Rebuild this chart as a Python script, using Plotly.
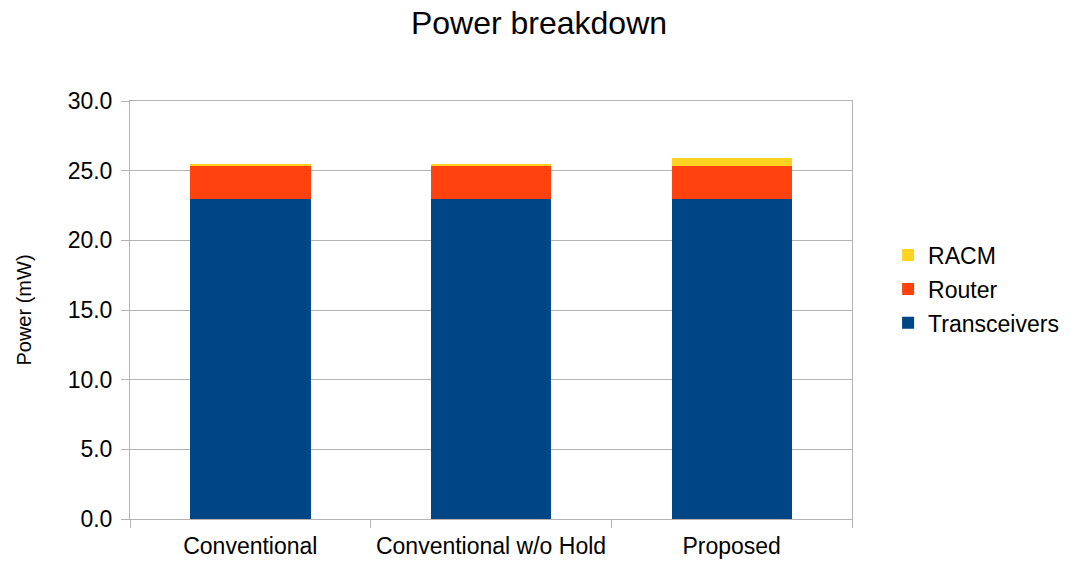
import plotly.graph_objects as go

# Stacked power components per design (mW)
categories = ["Conventional", "Conventional w/o Hold", "Proposed"]
transceivers = [23.0, 23.0, 23.0]
router = [2.3, 2.3, 2.3]
racm = [0.2, 0.2, 0.6]

series = [
    ("Transceivers", transceivers, "#004586", 3),
    ("Router", router, "#FF420E", 2),
    ("RACM", racm, "#FFD320", 1),
]

fig = go.Figure()
for name, vals, color, rank in series:
    fig.add_trace(go.Bar(
        x=categories, y=vals, name=name, legendgroup=name, legendrank=rank,
        marker=dict(color=color, line=dict(width=0)),
    ))

grid = "#b3b3b3"
fig.update_layout(
    barmode="stack",
    bargap=0.5,
    width=1078, height=567,
    margin=dict(l=130, r=226, t=101, b=48),
    paper_bgcolor="white", plot_bgcolor="white",
    font=dict(family="Liberation Sans, Arial, sans-serif", color="black", size=23),
    title=dict(text="Power breakdown", x=0.5, xanchor="center", y=0.96, yanchor="middle",
               font=dict(size=32)),
    legend=dict(x=1.05, y=0.55, xanchor="left", yanchor="middle",
                traceorder="grouped", tracegroupgap=1,
                font=dict(size=23)),
    xaxis=dict(showline=True, linecolor=grid, mirror=True, ticks="outside",
               tickson="boundaries", ticklen=8, tickcolor=grid, showgrid=False,
               tickfont=dict(size=23), ticklabelstandoff=6, automargin=False),
    yaxis=dict(range=[0, 30], dtick=5, tickformat=".1f", showgrid=True, gridcolor=grid,
               showline=True, linecolor=grid, mirror=True, ticks="outside", ticklen=8,
               tickcolor=grid, zeroline=False, tickfont=dict(size=23), ticklabelstandoff=4,
               automargin=False,
               title=dict(text="Power (mW)", font=dict(size=20), standoff=30)),
)

fig.write_html("out.html")
